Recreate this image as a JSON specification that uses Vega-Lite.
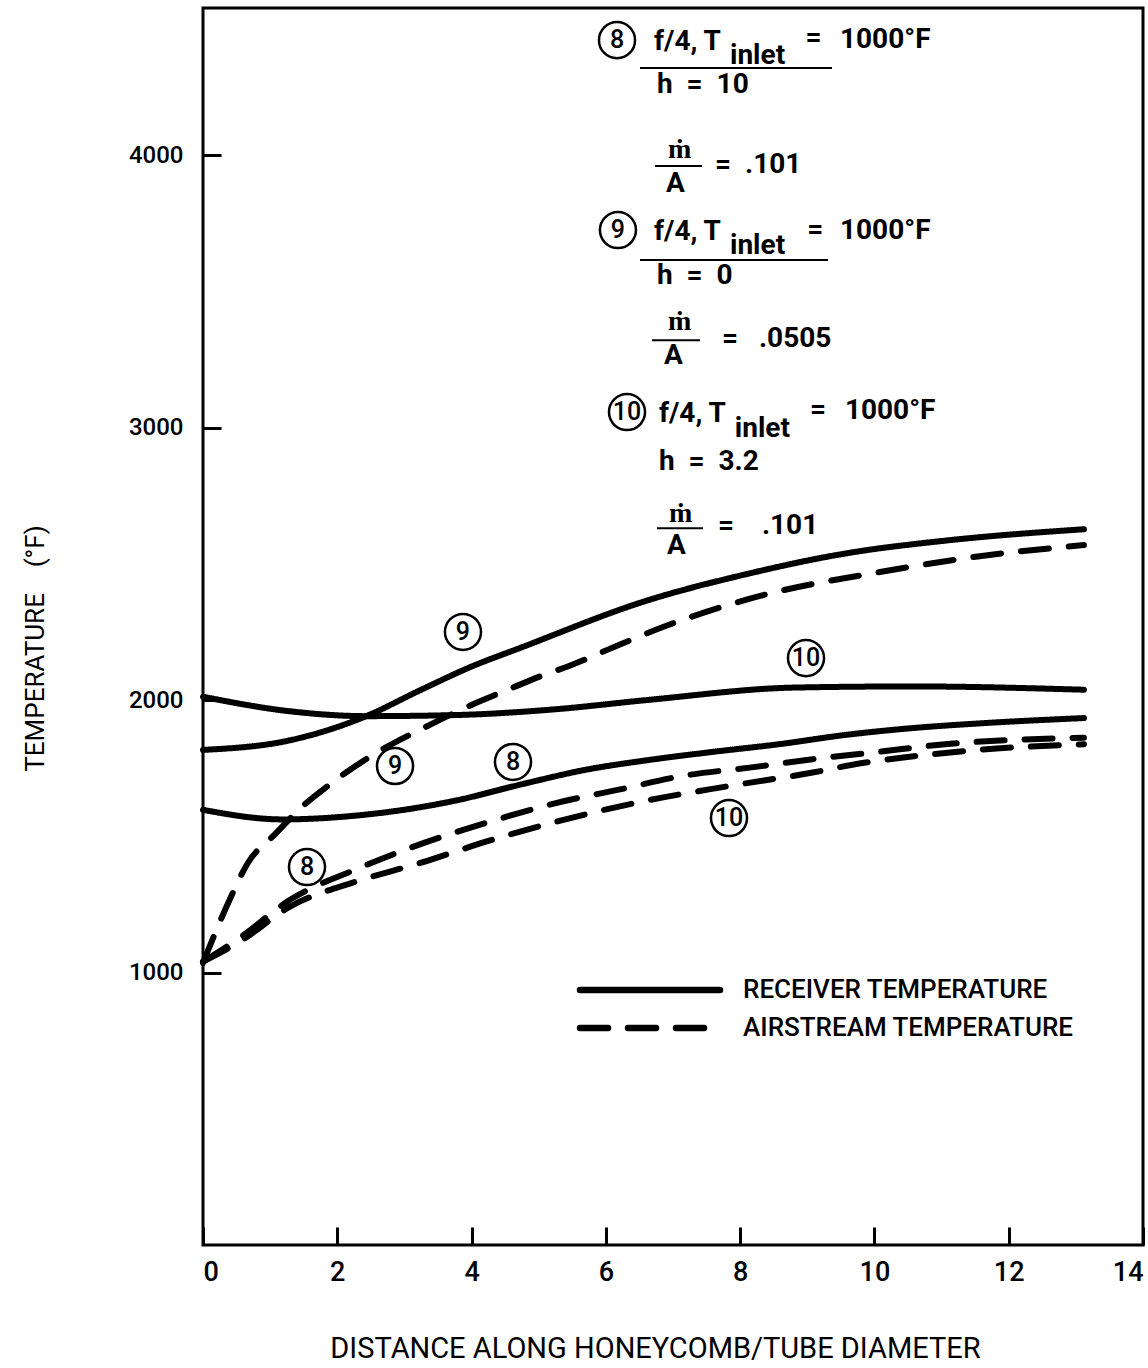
{
  "$schema": "https://vega.github.io/schema/vega-lite/v6.json",
  "width": 940,
  "height": 1237,
  "autosize": {"type": "none"},
  "padding": {"left": 203, "top": 8, "right": 5, "bottom": 123},
  "background": "white",
  "config": {
    "view": {"stroke": "black", "strokeWidth": 3},
    "font": "Roboto"
  },
  "datasets": {
    "curves": [
      {"curve": "R9", "type": "RECEIVER TEMPERATURE", "x": 0, "T": 1817},
      {"curve": "R9", "type": "RECEIVER TEMPERATURE", "x": 1.29, "T": 1852},
      {"curve": "R9", "type": "RECEIVER TEMPERATURE", "x": 2.43, "T": 1941},
      {"curve": "R9", "type": "RECEIVER TEMPERATURE", "x": 3.25, "T": 2038},
      {"curve": "R9", "type": "RECEIVER TEMPERATURE", "x": 4.0, "T": 2123},
      {"curve": "R9", "type": "RECEIVER TEMPERATURE", "x": 4.73, "T": 2192},
      {"curve": "R9", "type": "RECEIVER TEMPERATURE", "x": 6.61, "T": 2365},
      {"curve": "R9", "type": "RECEIVER TEMPERATURE", "x": 8.09, "T": 2462},
      {"curve": "R9", "type": "RECEIVER TEMPERATURE", "x": 9.57, "T": 2538},
      {"curve": "R9", "type": "RECEIVER TEMPERATURE", "x": 11.05, "T": 2585},
      {"curve": "R9", "type": "RECEIVER TEMPERATURE", "x": 13.12, "T": 2627},
      {"curve": "R10", "type": "RECEIVER TEMPERATURE", "x": 0, "T": 2012},
      {"curve": "R10", "type": "RECEIVER TEMPERATURE", "x": 1.29, "T": 1959},
      {"curve": "R10", "type": "RECEIVER TEMPERATURE", "x": 2.43, "T": 1941},
      {"curve": "R10", "type": "RECEIVER TEMPERATURE", "x": 3.76, "T": 1945},
      {"curve": "R10", "type": "RECEIVER TEMPERATURE", "x": 5.24, "T": 1966},
      {"curve": "R10", "type": "RECEIVER TEMPERATURE", "x": 6.61, "T": 2000},
      {"curve": "R10", "type": "RECEIVER TEMPERATURE", "x": 8.83, "T": 2046},
      {"curve": "R10", "type": "RECEIVER TEMPERATURE", "x": 10.56, "T": 2050},
      {"curve": "R10", "type": "RECEIVER TEMPERATURE", "x": 13.12, "T": 2038},
      {"curve": "R8", "type": "RECEIVER TEMPERATURE", "x": 0, "T": 1597},
      {"curve": "R8", "type": "RECEIVER TEMPERATURE", "x": 1.18, "T": 1562},
      {"curve": "R8", "type": "RECEIVER TEMPERATURE", "x": 2.28, "T": 1576},
      {"curve": "R8", "type": "RECEIVER TEMPERATURE", "x": 3.76, "T": 1631},
      {"curve": "R8", "type": "RECEIVER TEMPERATURE", "x": 4.73, "T": 1690},
      {"curve": "R8", "type": "RECEIVER TEMPERATURE", "x": 5.72, "T": 1745},
      {"curve": "R8", "type": "RECEIVER TEMPERATURE", "x": 6.61, "T": 1779},
      {"curve": "R8", "type": "RECEIVER TEMPERATURE", "x": 7.6, "T": 1810},
      {"curve": "R8", "type": "RECEIVER TEMPERATURE", "x": 8.58, "T": 1838},
      {"curve": "R8", "type": "RECEIVER TEMPERATURE", "x": 9.57, "T": 1872},
      {"curve": "R8", "type": "RECEIVER TEMPERATURE", "x": 10.56, "T": 1897},
      {"curve": "R8", "type": "RECEIVER TEMPERATURE", "x": 11.54, "T": 1914},
      {"curve": "R8", "type": "RECEIVER TEMPERATURE", "x": 13.12, "T": 1934},
      {"curve": "A9", "type": "AIRSTREAM TEMPERATURE", "x": 0, "T": 1035},
      {"curve": "A9", "type": "AIRSTREAM TEMPERATURE", "x": 0.4, "T": 1269},
      {"curve": "A9", "type": "AIRSTREAM TEMPERATURE", "x": 0.67, "T": 1403},
      {"curve": "A9", "type": "AIRSTREAM TEMPERATURE", "x": 1.07, "T": 1507},
      {"curve": "A9", "type": "AIRSTREAM TEMPERATURE", "x": 1.5, "T": 1614},
      {"curve": "A9", "type": "AIRSTREAM TEMPERATURE", "x": 1.85, "T": 1683},
      {"curve": "A9", "type": "AIRSTREAM TEMPERATURE", "x": 2.13, "T": 1734},
      {"curve": "A9", "type": "AIRSTREAM TEMPERATURE", "x": 2.54, "T": 1800},
      {"curve": "A9", "type": "AIRSTREAM TEMPERATURE", "x": 3.33, "T": 1903},
      {"curve": "A9", "type": "AIRSTREAM TEMPERATURE", "x": 4.07, "T": 1990},
      {"curve": "A9", "type": "AIRSTREAM TEMPERATURE", "x": 4.54, "T": 2038},
      {"curve": "A9", "type": "AIRSTREAM TEMPERATURE", "x": 5.03, "T": 2088},
      {"curve": "A9", "type": "AIRSTREAM TEMPERATURE", "x": 5.47, "T": 2127},
      {"curve": "A9", "type": "AIRSTREAM TEMPERATURE", "x": 6.21, "T": 2204},
      {"curve": "A9", "type": "AIRSTREAM TEMPERATURE", "x": 6.86, "T": 2269},
      {"curve": "A9", "type": "AIRSTREAM TEMPERATURE", "x": 8.34, "T": 2385},
      {"curve": "A9", "type": "AIRSTREAM TEMPERATURE", "x": 10.06, "T": 2469},
      {"curve": "A9", "type": "AIRSTREAM TEMPERATURE", "x": 11.54, "T": 2527},
      {"curve": "A9", "type": "AIRSTREAM TEMPERATURE", "x": 13.12, "T": 2569},
      {"curve": "A8", "type": "AIRSTREAM TEMPERATURE", "x": 0, "T": 1040},
      {"curve": "A8", "type": "AIRSTREAM TEMPERATURE", "x": 0.55, "T": 1128},
      {"curve": "A8", "type": "AIRSTREAM TEMPERATURE", "x": 1.29, "T": 1266},
      {"curve": "A8", "type": "AIRSTREAM TEMPERATURE", "x": 2.28, "T": 1379},
      {"curve": "A8", "type": "AIRSTREAM TEMPERATURE", "x": 3.25, "T": 1472},
      {"curve": "A8", "type": "AIRSTREAM TEMPERATURE", "x": 4.25, "T": 1552},
      {"curve": "A8", "type": "AIRSTREAM TEMPERATURE", "x": 5.24, "T": 1621},
      {"curve": "A8", "type": "AIRSTREAM TEMPERATURE", "x": 6.21, "T": 1672},
      {"curve": "A8", "type": "AIRSTREAM TEMPERATURE", "x": 7.2, "T": 1724},
      {"curve": "A8", "type": "AIRSTREAM TEMPERATURE", "x": 8.14, "T": 1752},
      {"curve": "A8", "type": "AIRSTREAM TEMPERATURE", "x": 9.08, "T": 1783},
      {"curve": "A8", "type": "AIRSTREAM TEMPERATURE", "x": 10.06, "T": 1810},
      {"curve": "A8", "type": "AIRSTREAM TEMPERATURE", "x": 11.05, "T": 1838},
      {"curve": "A8", "type": "AIRSTREAM TEMPERATURE", "x": 12.19, "T": 1855},
      {"curve": "A8", "type": "AIRSTREAM TEMPERATURE", "x": 13.12, "T": 1862},
      {"curve": "A10", "type": "AIRSTREAM TEMPERATURE", "x": 0, "T": 1040},
      {"curve": "A10", "type": "AIRSTREAM TEMPERATURE", "x": 0.55, "T": 1114},
      {"curve": "A10", "type": "AIRSTREAM TEMPERATURE", "x": 1.29, "T": 1241},
      {"curve": "A10", "type": "AIRSTREAM TEMPERATURE", "x": 2.28, "T": 1334},
      {"curve": "A10", "type": "AIRSTREAM TEMPERATURE", "x": 3.25, "T": 1403},
      {"curve": "A10", "type": "AIRSTREAM TEMPERATURE", "x": 4.25, "T": 1483},
      {"curve": "A10", "type": "AIRSTREAM TEMPERATURE", "x": 5.24, "T": 1552},
      {"curve": "A10", "type": "AIRSTREAM TEMPERATURE", "x": 6.21, "T": 1610},
      {"curve": "A10", "type": "AIRSTREAM TEMPERATURE", "x": 6.61, "T": 1631},
      {"curve": "A10", "type": "AIRSTREAM TEMPERATURE", "x": 7.8, "T": 1683},
      {"curve": "A10", "type": "AIRSTREAM TEMPERATURE", "x": 9.08, "T": 1734},
      {"curve": "A10", "type": "AIRSTREAM TEMPERATURE", "x": 9.82, "T": 1769},
      {"curve": "A10", "type": "AIRSTREAM TEMPERATURE", "x": 10.56, "T": 1793},
      {"curve": "A10", "type": "AIRSTREAM TEMPERATURE", "x": 11.54, "T": 1817},
      {"curve": "A10", "type": "AIRSTREAM TEMPERATURE", "x": 13.12, "T": 1838}
    ],
    "key": [
      {"curve": "KR", "type": "RECEIVER TEMPERATURE", "x": 5.615, "T": 936},
      {"curve": "KR", "type": "RECEIVER TEMPERATURE", "x": 7.7, "T": 936},
      {"curve": "KA", "type": "AIRSTREAM TEMPERATURE", "x": 5.615, "T": 796},
      {"curve": "KA", "type": "AIRSTREAM TEMPERATURE", "x": 7.7, "T": 796}
    ],
    "keylabels": [
      {"text": "RECEIVER TEMPERATURE", "x": 8.043, "T": 936},
      {"text": "AIRSTREAM TEMPERATURE", "x": 8.043, "T": 796}
    ],
    "circles": [
      {"label": "9", "x": 3.872, "T": 2250},
      {"label": "10", "x": 8.981, "T": 2154},
      {"label": "9", "x": 2.86, "T": 1758},
      {"label": "8", "x": 4.617, "T": 1773},
      {"label": "8", "x": 1.549, "T": 1387},
      {"label": "10", "x": 7.834, "T": 1567},
      {"label": "8", "x": 6.166, "T": 4422},
      {"label": "9", "x": 6.18, "T": 3725},
      {"label": "10", "x": 6.315, "T": 3057}
    ],
    "notes": [
      {"text": "f/4, T", "x": 6.717, "T": 4415},
      {"text": "inlet", "x": 7.849, "T": 4364},
      {"text": "=", "x": 8.975, "T": 4430},
      {"text": "1000°F", "x": 9.487, "T": 4422},
      {"text": "h\u00a0\u00a0=\u00a0\u00a010", "x": 6.762, "T": 4257},
      {"text": "ṁ", "x": 6.926, "T": 4019},
      {"text": "A", "x": 6.896, "T": 3894},
      {"text": "=\u00a0\u00a0.101", "x": 7.626, "T": 3964},
      {"text": "f/4, T", "x": 6.717, "T": 3718},
      {"text": "inlet", "x": 7.849, "T": 3666},
      {"text": "=", "x": 9.0, "T": 3725},
      {"text": "1000°F", "x": 9.487, "T": 3722},
      {"text": "h\u00a0\u00a0=\u00a0\u00a00", "x": 6.762, "T": 3556},
      {"text": "ṁ", "x": 6.926, "T": 3387},
      {"text": "A", "x": 6.866, "T": 3263},
      {"text": "=\u00a0\u00a0\u00a0.0505", "x": 7.73, "T": 3325},
      {"text": "f/4, T", "x": 6.79, "T": 3050},
      {"text": "inlet", "x": 7.92, "T": 2995},
      {"text": "=", "x": 9.04, "T": 3064},
      {"text": "1000°F", "x": 9.56, "T": 3061},
      {"text": "h\u00a0\u00a0=\u00a0\u00a03.2", "x": 6.79, "T": 2874},
      {"text": "ṁ", "x": 6.94, "T": 2683},
      {"text": "A", "x": 6.91, "T": 2565},
      {"text": "=\u00a0\u00a0\u00a0\u00a0.101", "x": 7.67, "T": 2639}
    ],
    "bars": [
      {"x": 6.509, "x2": 9.368, "T": 4320},
      {"x": 6.509, "x2": 9.308, "T": 3615},
      {"x": 6.732, "x2": 7.432, "T": 3960},
      {"x": 6.687, "x2": 7.402, "T": 3321},
      {"x": 6.762, "x2": 7.447, "T": 2631}
    ]
  },
  "encoding": {
    "x": {
      "field": "x",
      "type": "quantitative",
      "scale": {"domain": [0, 14], "nice": false},
      "axis": {
        "values": [0, 2, 4, 6, 8, 10, 12, 14],
        "format": "d",
        "title": "DISTANCE ALONG HONEYCOMB/TUBE DIAMETER",
        "domain": false,
        "grid": false,
        "tickSize": -18,
        "tickWidth": 3,
        "tickColor": "black",
        "labelFontSize": 27,
        "labelFontWeight": 500,
        "labelPadding": 32,
        "labelFlush": true,
        "labelColor": "black",
        "labelFont": "Roboto",
        "titleFont": "Roboto",
        "titleFontSize": 29,
        "titleFontWeight": "normal",
        "titleColor": "black",
        "titleX": 452,
        "titleY": 103,
        "titleBaseline": "middle"
      }
    },
    "y": {
      "field": "T",
      "type": "quantitative",
      "scale": {"domain": [0, 4540], "nice": false, "zero": false},
      "axis": {
        "values": [1000, 2000, 3000, 4000],
        "format": "d",
        "title": "TEMPERATURE\u00a0\u00a0\u00a0\u00a0(°F)",
        "domain": false,
        "grid": false,
        "tickSize": -18,
        "tickWidth": 3,
        "tickColor": "black",
        "labelFontSize": 24,
        "labelFontWeight": 500,
        "labelPadding": 38,
        "labelColor": "black",
        "labelFont": "Roboto",
        "titleFont": "Roboto",
        "titleFontSize": 26,
        "titleFontWeight": "normal",
        "titleColor": "black",
        "titleX": -168,
        "titleY": 640,
        "titleBaseline": "middle"
      }
    }
  },
  "layer": [
    {
      "data": {"name": "curves"},
      "mark": {"type": "line", "color": "black", "strokeWidth": 6, "interpolate": "monotone", "strokeCap": "round"},
      "encoding": {
        "detail": {"field": "curve", "type": "nominal"},
        "strokeDash": {
          "field": "type",
          "type": "nominal",
          "scale": {"domain": ["RECEIVER TEMPERATURE", "AIRSTREAM TEMPERATURE"], "range": [[1, 0], [28, 20]]},
          "legend": null
        }
      }
    },
    {
      "data": {"name": "key"},
      "mark": {"type": "line", "color": "black", "strokeWidth": 6.5, "strokeCap": "round"},
      "encoding": {
        "detail": {"field": "curve", "type": "nominal"},
        "strokeDash": {"field": "type", "type": "nominal", "legend": null}
      }
    },
    {
      "data": {"name": "keylabels"},
      "mark": {"type": "text", "color": "black", "fontSize": 26, "font": "Roboto", "fontWeight": 500, "align": "left", "baseline": "middle"},
      "encoding": {"text": {"field": "text"}}
    },
    {
      "data": {"name": "bars"},
      "mark": {"type": "rule", "color": "black", "strokeWidth": 2},
      "encoding": {"x2": {"field": "x2"}}
    },
    {
      "data": {"name": "circles"},
      "mark": {"type": "point", "shape": "circle", "filled": false, "color": "black", "size": 1300, "strokeWidth": 2.5, "opacity": 1}
    },
    {
      "data": {"name": "circles"},
      "mark": {"type": "text", "color": "black", "fontSize": 25, "font": "Roboto", "fontWeight": 500, "align": "center", "baseline": "middle"},
      "encoding": {"text": {"field": "label"}}
    },
    {
      "data": {"name": "notes"},
      "mark": {"type": "text", "color": "black", "fontSize": 28, "font": "Roboto", "fontWeight": "bold", "align": "left", "baseline": "middle"},
      "encoding": {"text": {"field": "text"}}
    }
  ]
}
